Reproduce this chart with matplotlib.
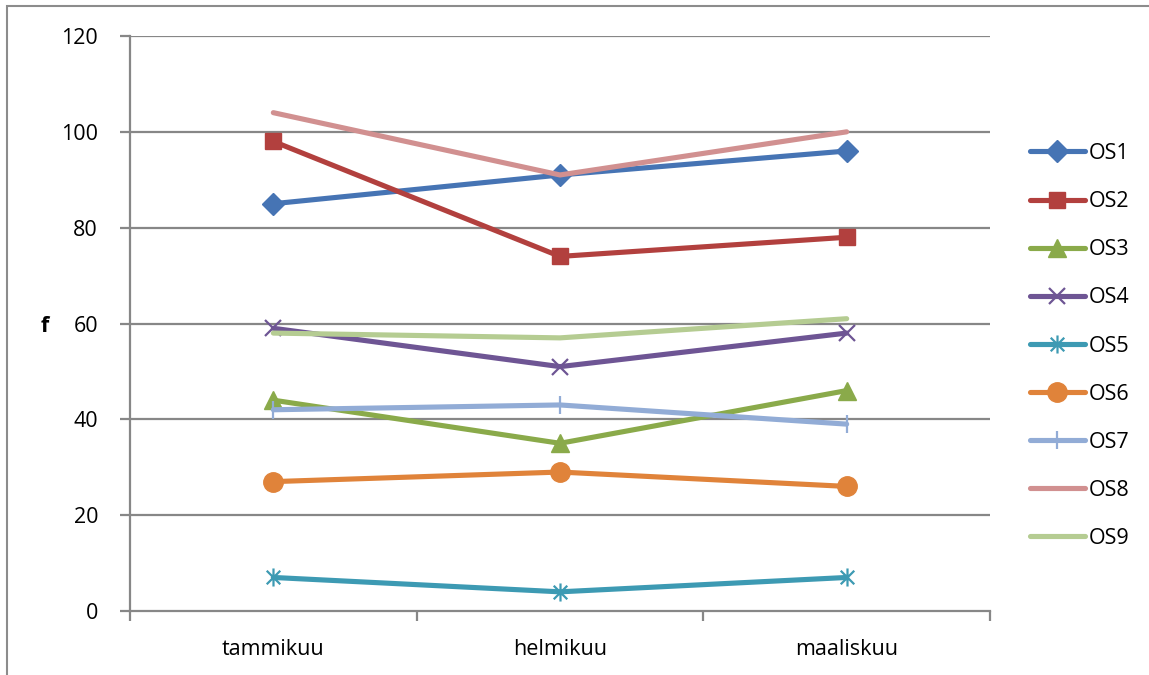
import matplotlib.pyplot as plt
from matplotlib.path import Path
from matplotlib.patches import Rectangle

plt.rcParams['font.family'] = ['Open Sans', 'DejaVu Sans']

months = ["tammikuu", "helmikuu", "maaliskuu"]
series_names = ["OS1", "OS2", "OS3", "OS4", "OS5", "OS6", "OS7", "OS8", "OS9"]
os1 = [85, 91, 96]
os2 = [98, 74, 78]
os3 = [44, 35, 46]
os4 = [59, 51, 58]
os5 = [7, 4, 7]
os6 = [27, 29, 26]
os7 = [42, 43, 39]
os8 = [104, 91, 100]
os9 = [58, 57, 61]
values = [os1, os2, os3, os4, os5, os6, os7, os8, os9]
y_ticks = [0, 20, 40, 60, 80, 100, 120]

colors = ["#4674B4", "#B2403E", "#8AAA4A", "#6E5594", "#3D9AB3",
          "#E0833A", "#92ACD6", "#D19090", "#B5CC92"]

# star marker: an x with a vertical stroke through it
star = Path([(0, -1), (0, 1), (-0.75, -0.75), (0.75, 0.75), (-0.75, 0.75), (0.75, -0.75)],
            [Path.MOVETO, Path.LINETO] * 3)

styles = [
    dict(marker="D", markersize=11),
    dict(marker="s", markersize=12),
    dict(marker="^", markersize=13),
    dict(marker="x", markersize=12, markeredgewidth=1.6),
    dict(marker=star, markersize=13, markeredgewidth=1.6, markerfacecolor="none"),
    dict(marker="o", markersize=14),
    dict(marker="|", markersize=13, markeredgewidth=1.6),
    dict(marker=None),
    dict(marker=None),
]

GRID = "#878787"

fig = plt.figure(figsize=(11.49, 6.75), dpi=100)
fig.patches.append(Rectangle((7 / 1149, -0.1), 1.2, 1 - 6 / 675 + 0.1,
                             transform=fig.transFigure, fill=False,
                             edgecolor="#8c8c8c", linewidth=1.5))
ax = fig.add_axes([130 / 1149, 64 / 675, 860 / 1149, 575 / 675])

x = list(range(len(months)))
for name, vals, col, st in zip(series_names, values, colors, styles):
    ax.plot(x, vals, color=col, linewidth=3.7, label=name,
            markeredgecolor=col, solid_capstyle="round", **st)

ax.set_xlim(-0.5, 2.5)
ax.set_ylim(0, 120)
ax.set_yticks(y_ticks)
for yv in y_ticks[1:]:
    ax.axhline(yv, color=GRID, linewidth=1.6, zorder=0)

ax.set_xticks([-0.5, 0.5, 1.5, 2.5])
ax.set_xticklabels([])
ax.set_xticks(x, months, minor=True)
ax.tick_params(axis="x", which="major", length=7, width=1.6, color=GRID, direction="out")
ax.tick_params(axis="x", which="minor", length=0, pad=20, labelsize=15.5)
ax.tick_params(axis="y", length=7, width=1.6, color=GRID, direction="out",
               pad=16, labelsize=15.5)

for side in ["top", "right"]:
    ax.spines[side].set_visible(False)
for side in ["left", "bottom"]:
    ax.spines[side].set_color(GRID)
    ax.spines[side].set_linewidth(1.6)

fig.text(45 / 1149, 1 - 327 / 675, "f", fontsize=15.5, fontweight="bold",
         ha="center", va="center")

ax.legend(loc="upper left", bbox_to_anchor=(1030 / 1149, 1 - 143 / 675),
          bbox_transform=fig.transFigure, frameon=False, fontsize=15.5,
          handlelength=2.55, handletextpad=0.2, labelspacing=1.26,
          borderpad=0, borderaxespad=0)

fig.savefig("out.png", dpi=100)
